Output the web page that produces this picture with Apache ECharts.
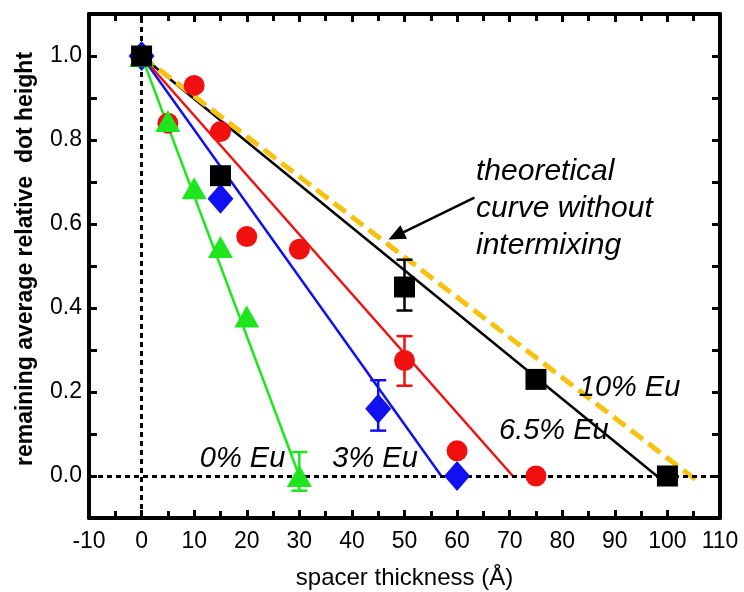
<!DOCTYPE html>
<html>
<head>
<meta charset="utf-8">
<script src="https://cdn.jsdelivr.net/npm/echarts@6/dist/echarts.min.js"></script>
<style>
html,body{margin:0;padding:0;background:#fff;}
#chart{width:744px;height:592px;}
</style>
</head>
<body>
<div id="chart"></div>
<script>
// ---- data ----
const xTicks = [-10, 0, 10, 20, 30, 40, 50, 60, 70, 80, 90, 100, 110];
const yTickLabels = ['0.0', '0.2', '0.4', '0.6', '0.8', '1.0'];

const xGreen = [0, 5, 10, 15, 20, 30];          // 0% Eu
const yGreen = [1.0, 0.845, 0.685, 0.545, 0.38, 0.0];
const xBlue = [0, 15, 45, 60];                  // 3% Eu
const yBlue = [1.0, 0.66, 0.16, 0.0];
const xRed = [0, 5, 10, 15, 20, 30, 50, 60, 75]; // 6.5% Eu
const yRed = [1.0, 0.84, 0.93, 0.82, 0.57, 0.54, 0.275, 0.06, 0.0];
const xBlack = [0, 15, 50, 75, 100];            // 10% Eu
const yBlack = [1.0, 0.715, 0.45, 0.23, 0.0];

// error bars: [x, low, high]
const errGreen = [[30, -0.035, 0.057]];
const errBlue = [[45, 0.108, 0.228]];
const errRed = [[50, 0.215, 0.333]];
const errBlack = [[50, 0.394, 0.515]];

// fitted lines (end points)
const fitGreen = [[0, 1.0], [30, 0.0]];
const fitBlue = [[0, 1.0], [57, 0.0]];
const fitRed = [[0, 1.0], [70.6, 0.0]];
const fitBlack = [[0, 1.0], [98, 0.0]];
const theory = [[0, 1.0], [105.5, -0.01]];

// annotation anchors
const labels = [
  {text: '0% Eu', x: 19.2, y: 0.04},
  {text: '3% Eu', x: 44.4, y: 0.04},
  {text: '6.5% Eu', x: 78.4, y: 0.107},
  {text: '10% Eu', x: 92.8, y: 0.209}
];
const noteText = 'theoretical\ncurve without\nintermixing';
const notePos = [63.6, 0.637];
const arrowFrom = [63.3, 0.663];
const arrowTo = [48.4, 0.572];

// ---- chart ----
const zip = (xs, ys) => xs.map((x, i) => [x, ys[i]]);
const FONT = '"Liberation Sans", Arial, sans-serif';
const C = {green: '#1ee61e', blue: '#1010f0', red: '#f01010', black: '#000000', gold: '#f7c20f'};

function errSeries(data, color) {
  return {
    type: 'custom', data: data, z: 6,
    encode: {x: 0, y: [1, 2]},
    renderItem: function (params, api) {
      const x = api.value(0), lo = api.value(1), hi = api.value(2);
      const a = api.coord([x, lo]), b = api.coord([x, hi]);
      const w = 8;
      const st = {stroke: color, lineWidth: 2.5};
      return {type: 'group', children: [
        {type: 'line', shape: {x1: a[0], y1: a[1], x2: b[0], y2: b[1]}, style: st},
        {type: 'line', shape: {x1: a[0] - w, y1: a[1], x2: a[0] + w, y2: a[1]}, style: st},
        {type: 'line', shape: {x1: b[0] - w, y1: b[1], x2: b[0] + w, y2: b[1]}, style: st}
      ]};
    }
  };
}
function fitSeries(data, color, width, type) {
  return {type: 'line', data: data, symbol: 'none', silent: true, z: 3,
    lineStyle: {color: color, width: width, type: type || 'solid'}};
}
function markSeries(data, symbol, size, color, z) {
  return {type: 'scatter', data: data, symbol: symbol, symbolSize: size, z: z,
    itemStyle: {color: color, opacity: 1}};
}

const axisLineStyle = {color: '#000', width: 4};
const tickStyle = {color: '#000', width: 3};

const xBase = {
  type: 'value', min: -10, max: 110, interval: 10,
  splitLine: {show: false},
  axisLine: {show: true, onZero: false, lineStyle: axisLineStyle},
  axisTick: {show: true, inside: true, length: 8, lineStyle: tickStyle},
  minorTick: {show: true, splitNumber: 2, length: 7, lineStyle: tickStyle},
  minorSplitLine: {show: false}
};
const yBase = {
  type: 'value', min: -0.1, max: 1.1, interval: 0.1,
  splitLine: {show: false},
  axisLine: {show: true, onZero: false, lineStyle: axisLineStyle},
  axisTick: {show: true, inside: true, length: 8, lineStyle: tickStyle}
};

const textSeries = (data, label) => ({type: 'scatter', symbolSize: 0, silent: true, z: 11,
  data: data, itemStyle: {opacity: 1, color: '#000'}, label: label});

const option = {
  animation: false,
  backgroundColor: '#ffffff',
  grid: {left: 89, right: 24, top: 14, bottom: 74, containLabel: false, outerBoundsMode: 'none'},
  xAxis: [
    Object.assign({}, xBase, {
      position: 'bottom',
      axisLabel: {fontFamily: FONT, fontSize: 23, color: '#000', margin: 12,
        formatter: v => xTicks.includes(Math.round(v)) ? String(Math.round(v)) : ''},
      name: 'spacer thickness (Å)', nameLocation: 'middle', nameGap: 48,
      nameTextStyle: {fontFamily: FONT, fontSize: 24, color: '#000'}
    }),
    Object.assign({}, xBase, {position: 'top', axisLabel: {show: false}})
  ],
  yAxis: [
    Object.assign({}, yBase, {
      position: 'left',
      axisLabel: {fontFamily: FONT, fontSize: 23, color: '#000', margin: 7,
        formatter: function (v) {
          const s = (Math.round(v * 10) / 10).toFixed(1);
          return yTickLabels.includes(s) ? s : '';
        }},
      name: 'remaining average relative  dot height', nameLocation: 'middle', nameGap: 52,
      nameTextStyle: {fontFamily: FONT, fontSize: 23, fontWeight: 'bold', color: '#000',
        padding: [0, 0, 0, 14]}
    }),
    Object.assign({}, yBase, {position: 'right', axisLabel: {show: false}})
  ],
  series: [
    // dotted reference lines at x=0 and y=0
    {type: 'line', data: [], silent: true, z: 2,
      markLine: {silent: true, symbol: ['none', 'none'], label: {show: false},
        lineStyle: {color: '#000', width: 3, type: [5, 4]},
        data: [{xAxis: 0}, {yAxis: 0}]}},
    fitSeries(fitGreen, C.green, 2.5),
    fitSeries(fitBlue, C.blue, 2.5),
    fitSeries(fitRed, C.red, 2.5),
    fitSeries(fitBlack, C.black, 2.5),
    fitSeries(theory, C.gold, 5, [15, 7]),
    errSeries(errRed, C.red),
    errSeries(errBlue, C.blue),
    errSeries(errGreen, C.green),
    errSeries(errBlack, C.black),
    markSeries(zip(xRed, yRed), 'circle', 21, C.red, 7),
    markSeries(zip(xBlue, yBlue), 'diamond', [26, 30], C.blue, 8),
    markSeries(zip(xGreen, yGreen), 'triangle', [25, 22], C.green, 9),
    markSeries(zip(xBlack, yBlack), 'rect', 21, C.black, 10),
    // text labels
    textSeries(labels.map(l => ({value: [l.x, l.y], name: l.text})),
      {show: true, position: 'inside', formatter: p => p.name, opacity: 1,
        fontFamily: FONT, fontSize: 29, fontStyle: 'italic', color: '#000'}),
    textSeries([{value: notePos, name: noteText}],
      {show: true, position: 'right', distance: 0, formatter: p => p.name, opacity: 1,
        align: 'left', verticalAlign: 'middle', lineHeight: 37,
        fontFamily: FONT, fontSize: 30, fontStyle: 'italic', color: '#000'}),
    // arrow
    {type: 'line', data: [], silent: true, z: 11,
      markLine: {silent: true, symbol: ['none', 'triangle'], symbolSize: [15, 17],
        label: {show: false}, lineStyle: {color: '#000', width: 2.5, type: 'solid'},
        data: [[{coord: arrowFrom}, {coord: arrowTo}]]}}
  ]
};

const chart = echarts.init(document.getElementById('chart'), null, {renderer: 'canvas'});
chart.setOption(option);
</script>
</body>
</html>
